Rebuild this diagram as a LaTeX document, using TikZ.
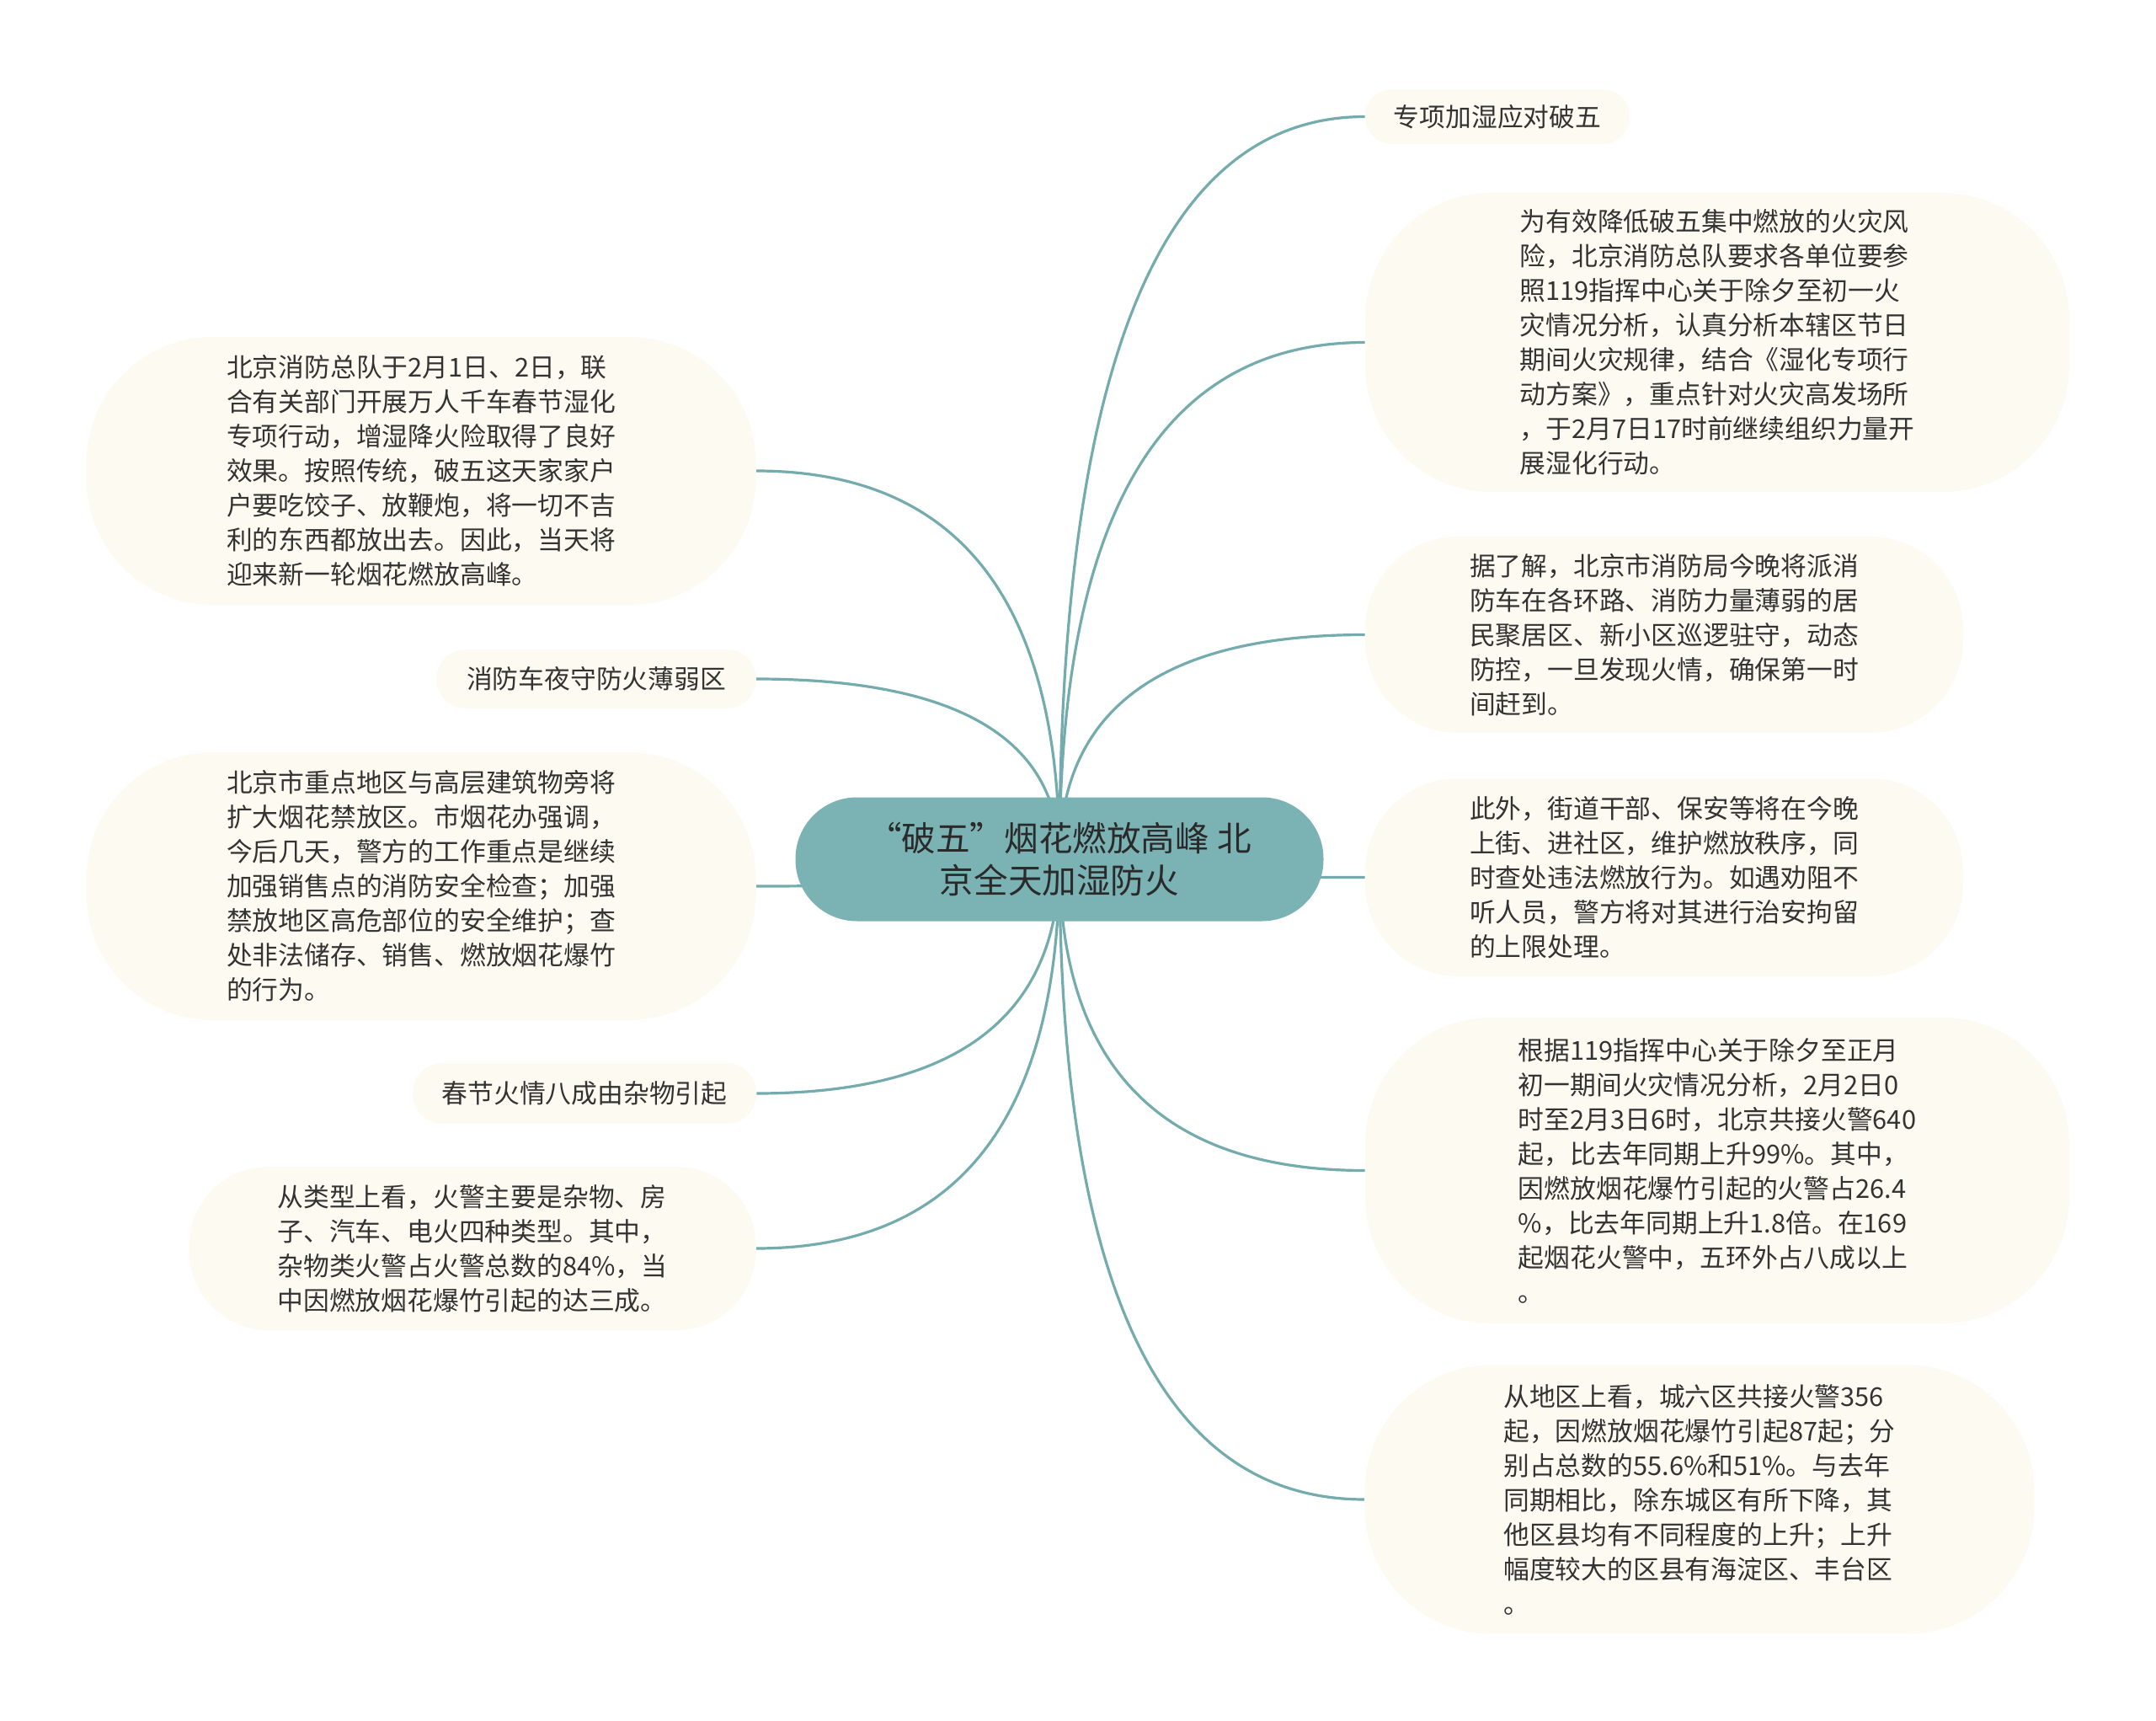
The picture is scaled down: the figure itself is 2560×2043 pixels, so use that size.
\documentclass[tikz,border=0pt]{standalone}
\usepackage{fontspec}
\setmainfont{Noto Sans CJK SC}
\usetikzlibrary{calc,backgrounds}
\definecolor{centerc}{HTML}{7BB3B5}
\definecolor{leafc}{HTML}{FDFBF1}
\definecolor{linec}{HTML}{74ABAD}
\definecolor{textc}{HTML}{333333}
\definecolor{ctextc}{HTML}{2A2A2A}
\newcommand\leaffont{\fontsize{15.4}{20.5}\selectfont}
\newcommand\centrefont{\fontsize{20.3}{25.3}\selectfont}
\begin{document}
\begin{tikzpicture}[x=0.5pt,y=-0.5pt,
  leaf/.style={fill=leafc,draw=none,align=left,text=textc,font=\leaffont,inner sep=0pt},
  centre/.style={fill=centerc,draw=none,align=center,text=ctextc,font=\centrefont,inner sep=0pt},
  conn/.style={draw=linec,line width=1.6pt}]
\useasboundingbox (0,0) rectangle (2560,2043);

\node[centre,minimum width=313.5pt,minimum height=73.5pt,rounded corners=36.5pt] (C) at (1258,1020)
  {“破五”烟花燃放高峰 北\\京全天加湿防火};

% right side
\node[leaf,minimum width=157pt,minimum height=32.5pt,rounded corners=16pt] (R1) at (1778,138.5)
  {专项加湿应对破五};
\node[leaf,minimum width=418pt,minimum height=177.5pt,rounded corners=75pt] (R2) at (2039,406.5)
  {为有效降低破五集中燃放的火灾风\\险，北京消防总队要求各单位要参\\照119指挥中心关于除夕至初一火\\灾情况分析，认真分析本辖区节日\\期间火灾规律，结合《湿化专项行\\动方案》，重点针对火灾高发场所\\，于2月7日17时前继续组织力量开\\展湿化行动。};
\node[leaf,minimum width=355pt,minimum height=116.5pt,rounded corners=55pt] (R3) at (1976,753.5)
  {据了解，北京市消防局今晚将派消\\防车在各环路、消防力量薄弱的居\\民聚居区、新小区巡逻驻守，动态\\防控，一旦发现火情，确保第一时\\间赶到。};
\node[leaf,minimum width=355pt,minimum height=117.5pt,rounded corners=55pt] (R4) at (1976,1041.5)
  {此外，街道干部、保安等将在今晚\\上街、进社区，维护燃放秩序，同\\时查处违法燃放行为。如遇劝阻不\\听人员，警方将对其进行治安拘留\\的上限处理。};
\node[leaf,minimum width=418pt,minimum height=181.5pt,rounded corners=75pt] (R5) at (2039,1389.5)
  {根据119指挥中心关于除夕至正月\\初一期间火灾情况分析，2月2日0\\时至2月3日6时，北京共接火警640\\起，比去年同期上升99\%。其中，\\因燃放烟花爆竹引起的火警占26.4\\\%，比去年同期上升1.8倍。在169\\起烟花火警中，五环外占八成以上\\。};
\node[leaf,minimum width=397.5pt,minimum height=159.5pt,rounded corners=75pt] (R6) at (2018,1780)
  {从地区上看，城六区共接火警356\\起，因燃放烟花爆竹引起87起；分\\别占总数的55.6\%和51\%。与去年\\同期相比，除东城区有所下降，其\\他区县均有不同程度的上升；上升\\幅度较大的区县有海淀区、丰台区\\。};

% left side
\node[leaf,minimum width=397.5pt,minimum height=159pt,rounded corners=75pt] (L1) at (500,559)
  {北京消防总队于2月1日、2日，联\\合有关部门开展万人千车春节湿化\\专项行动，增湿降火险取得了良好\\效果。按照传统，破五这天家家户\\户要吃饺子、放鞭炮，将一切不吉\\利的东西都放出去。因此，当天将\\迎来新一轮烟花燃放高峰。};
\node[leaf,minimum width=189.5pt,minimum height=35pt,rounded corners=17pt] (L2) at (708,806)
  {消防车夜守防火薄弱区};
\node[leaf,minimum width=397.5pt,minimum height=159pt,rounded corners=75pt] (L3) at (500,1052)
  {北京市重点地区与高层建筑物旁将\\扩大烟花禁放区。市烟花办强调，\\今后几天，警方的工作重点是继续\\加强销售点的消防安全检查；加强\\禁放地区高危部位的安全维护；查\\处非法储存、销售、燃放烟花爆竹\\的行为。};
\node[leaf,minimum width=204pt,minimum height=36pt,rounded corners=17.5pt] (L4) at (694,1298)
  {春节火情八成由杂物引起};
\node[leaf,minimum width=336.5pt,minimum height=97pt,rounded corners=47pt] (L5) at (561,1482)
  {从类型上看，火警主要是杂物、房\\子、汽车、电火四种类型。其中，\\杂物类火警占火警总数的84\%，当\\中因燃放烟花爆竹引起的达三成。};

\begin{scope}[on background layer]
\fill[white] (0,0) rectangle (2560,2043);
\foreach \n in {R1,R2,R3,R4,R5,R6} {
  \draw[conn] (C.center) .. controls ($(C.center)!0.6667!(C.center |- \n.west)$) and ($(\n.west)!0.6667!(C.center |- \n.west)$) .. (\n.west);
}
\foreach \n in {L1,L2,L3,L4,L5} {
  \draw[conn] (C.center) .. controls ($(C.center)!0.6667!(C.center |- \n.east)$) and ($(\n.east)!0.6667!(C.center |- \n.east)$) .. (\n.east);
}
\end{scope}
\end{tikzpicture}
\end{document}
